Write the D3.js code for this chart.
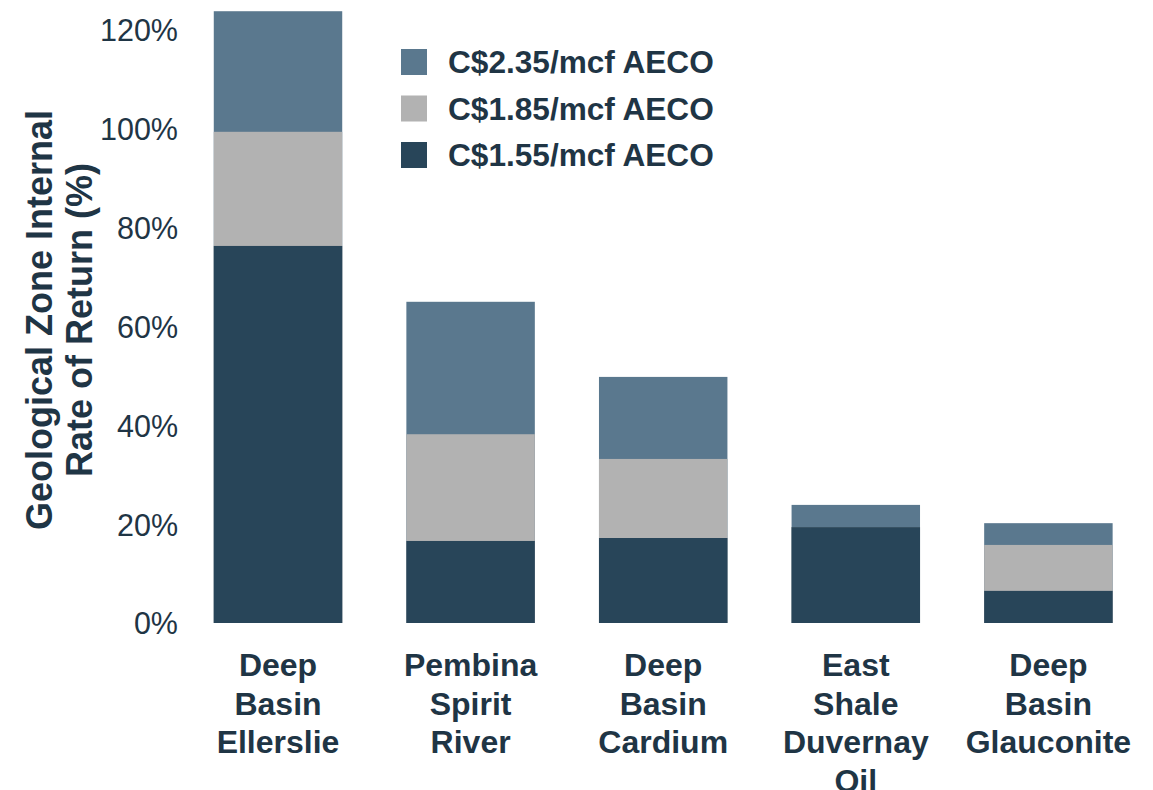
<!DOCTYPE html>
<html>
<head>
<meta charset="utf-8">
<script src="https://cdn.jsdelivr.net/npm/d3@7"></script>
<style>
  body { margin: 0; background: #fff; }
  svg { display: block; font-family: 'Liberation Sans', Arial, sans-serif; }
</style>
</head>
<body>
<div id="target"></div>
<script>
const width = 1153;
const height = 790;

// categories (line breaks as in the picture)
const zones = [
  ['Deep', 'Basin', 'Ellerslie'],
  ['Pembina', 'Spirit', 'River'],
  ['Deep', 'Basin', 'Cardium'],
  ['East', 'Shale', 'Duvernay', 'Oil'],
  ['Deep', 'Basin', 'Glauconite'],
];
const zoneKeys = zones.map((z) => z.join(' '));

// IRR (%) at each gas price
const irr235 = [123.8, 65.0, 49.8, 23.9, 20.2];
const irr185 = [99.4, 38.2, 33.2, 19.4, 15.8];
const irr155 = [76.3, 16.6, 17.2, 19.4, 6.5];

const seriesNames = ['C$2.35/mcf AECO', 'C$1.85/mcf AECO', 'C$1.55/mcf AECO'];
const seriesColors = ['#5a788e', '#b2b2b2', '#284559'];
const yTicks = [0, 20, 40, 60, 80, 100, 120];

const textColor = '#1f3545';

const svg = d3.select('#target').append('svg').attr('width', width).attr('height', height);

const x = d3.scaleBand().domain(zoneKeys).range([181.7, 1144.7]).paddingInner(0.333).paddingOuter(0.1665);
const y = d3.scaleLinear().domain([0, 120]).range([623, 30]);

// tallest series first so the lower prices sit in front
const series = [irr235, irr185, irr155];
series.forEach((vals, i) => {
  svg
    .append('g')
    .selectAll('rect')
    .data(vals)
    .enter()
    .append('rect')
    .attr('x', (d, j) => x(zoneKeys[j]))
    .attr('y', (d) => y(d))
    .attr('width', x.bandwidth())
    .attr('height', (d) => y(0) - y(d))
    .attr('fill', seriesColors[i]);
});

// y axis
const yAxis = svg
  .append('g')
  .attr('transform', 'translate(178,0)')
  .call(
    d3
      .axisLeft(y)
      .tickValues(yTicks)
      .tickSize(0)
      .tickPadding(0)
      .tickFormat((d) => d + '%')
  );
yAxis.select('.domain').remove();
yAxis
  .selectAll('text')
  .attr('font-family', "'Liberation Sans', Arial, sans-serif")
  .attr('font-size', 30.5)
  .attr('fill', textColor)
  .attr('dy', '0.36em');

// x axis labels
const xAxis = svg
  .append('g')
  .attr('transform', 'translate(0,623)')
  .call(d3.axisBottom(x).tickSize(0).tickFormat(''));
xAxis.select('.domain').remove();
xAxis.selectAll('.tick').each(function (d, i) {
  const t = d3
    .select(this)
    .append('text')
    .attr('text-anchor', 'middle')
    .attr('font-family', "'Liberation Sans', Arial, sans-serif")
    .attr('font-size', 32)
    .attr('font-weight', 'bold')
    .attr('fill', textColor);
  zones[i].forEach((line, k) => {
    t.append('tspan').attr('x', 0).attr('y', 53 + k * 38.5).text(line);
  });
});

// y title
const title = svg
  .append('text')
  .attr('transform', 'translate(0,320) rotate(-90)')
  .attr('text-anchor', 'middle')
  .attr('font-size', 36)
  .attr('font-weight', 'bold')
  .attr('fill', textColor);
title.append('tspan').attr('x', 0).attr('y', 52).text('Geological Zone Internal');
title.append('tspan').attr('x', 0).attr('y', 92).text('Rate of Return (%)');

// legend
const legend = svg
  .append('g')
  .selectAll('g')
  .data(seriesNames)
  .enter()
  .append('g')
  .attr('transform', (d, i) => 'translate(401,' + (49 + i * 46.5) + ')');
legend
  .append('rect')
  .attr('width', 26)
  .attr('height', 26)
  .attr('fill', (d, i) => seriesColors[i]);
legend
  .append('text')
  .attr('x', 47)
  .attr('y', 24)
  .attr('font-size', 31.6)
  .attr('font-weight', 'bold')
  .attr('fill', textColor)
  .text((d) => d);
</script>
</body>
</html>
